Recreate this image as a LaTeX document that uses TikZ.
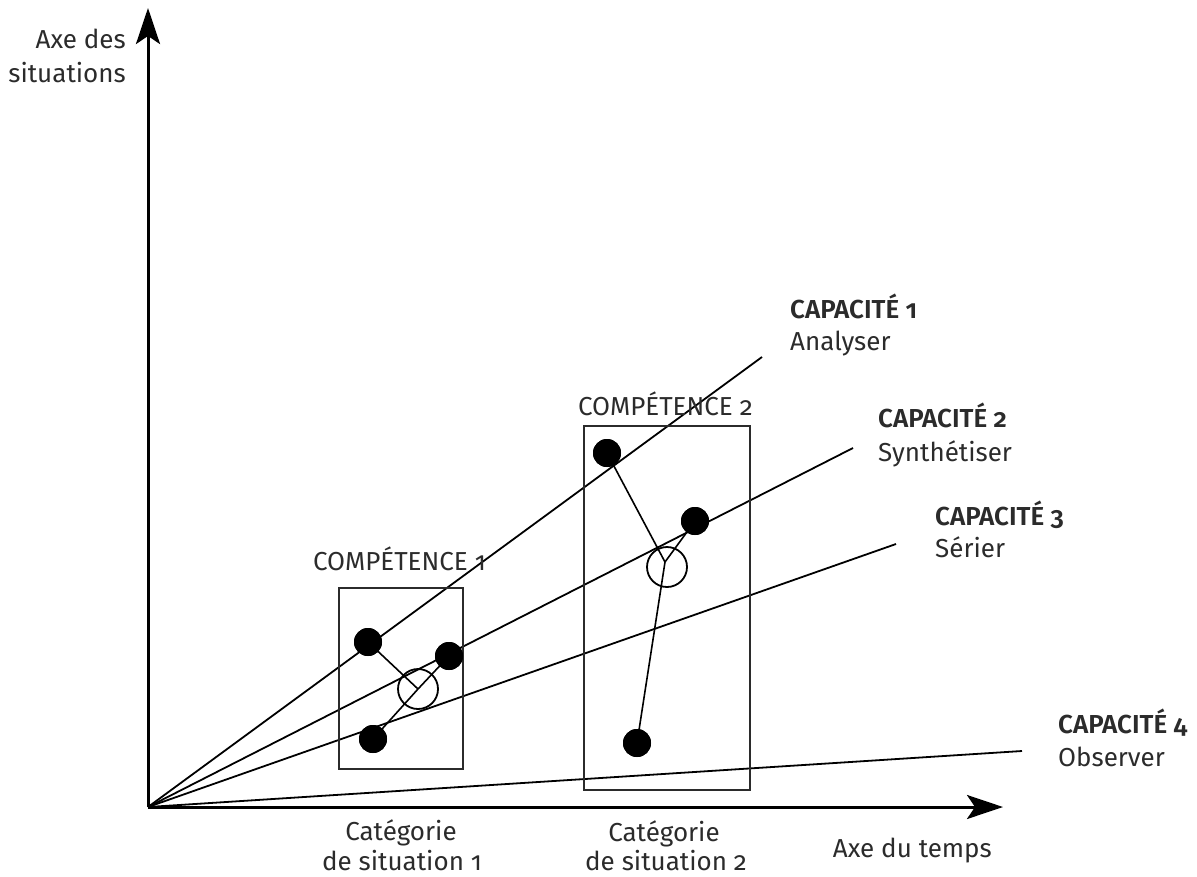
\documentclass[tikz,border=0pt]{standalone}
\usepackage{fontspec}
\setmainfont{Fira Sans}[Numbers=OldStyle,BoldFont={Fira Sans SemiBold}]
\usetikzlibrary{arrows.meta}
\definecolor{ink}{HTML}{2B2B2B}
\begin{document}
\begin{tikzpicture}[x=1pt,y=-1pt,
  axis/.style={line width=3pt,-{Stealth[length=36pt,width=24pt,inset=8pt]}},
  capline/.style={line width=1.8pt},
  framebox/.style={draw=ink,line width=2pt},
  link/.style={line width=1.6pt},
  fulldot/.style={circle,fill=black,inner sep=0pt,minimum size=28pt},
  opendot/.style={circle,draw=black,line width=1.8pt,inner sep=0pt,minimum size=40pt},
  lbl/.style={text=ink,inner sep=0pt,font=\fontsize{26}{32}\selectfont},
  caplbl/.style={lbl,font=\fontsize{26}{32}\selectfont\bfseries},
]
\useasboundingbox (0,0) rectangle (1197,876);

% axes
\coordinate (O) at (148,807);
\coordinate (ytip) at (148,8);
\coordinate (xtip) at (1003,807);

% ends of the four capacity lines
\coordinate (c1) at (762,357);
\coordinate (c2) at (853,448);
\coordinate (c3) at (896,544);
\coordinate (c4) at (1022,751);

\draw[capline] (O) -- (c1);
\draw[capline] (O) -- (c2);
\draw[capline] (O) -- (c3);
\draw[capline] (O) -- (c4);

% competence frames
\draw[framebox] (339,588) rectangle (463,769);
\draw[framebox] (584,426) rectangle (750,790);

% competence 1
\node[opendot] (k1) at (418,689) {};
\node[fulldot] (a1) at (368,642) {};
\node[fulldot] (b1) at (449,656) {};
\node[fulldot] (d1) at (373,739) {};
\draw[link] (a1.center) -- (k1.center);
\draw[link] (b1.center) -- (k1.center);
\draw[link] (d1.center) -- (k1.center);
\node[fulldot] at (a1) {};
\node[fulldot] at (b1) {};
\node[fulldot] at (d1) {};

% competence 2
\node[opendot] (k2) at (667,567) {};
\coordinate (m2) at (665,562);
\node[fulldot] (a2) at (607,453) {};
\node[fulldot] (b2) at (695,521) {};
\node[fulldot] (d2) at (637,743) {};
\draw[link] (a2.center) -- (m2);
\draw[link] (b2.center) -- (m2);
\draw[link] (d2.center) -- (m2);
\node[fulldot] at (a2) {};
\node[fulldot] at (b2) {};
\node[fulldot] at (d2) {};

\draw[axis] (O) -- (ytip);
\draw[axis] (O) -- (xtip);

% labels
\node[lbl,anchor=base east] (ya) at (126,48) {Axe des};
\node[lbl,anchor=base east] (yb) at (126,82) {situations};
\node[lbl,anchor=base east] (xa) at (992,857) {Axe du temps};

\node[lbl,anchor=base] (s1a) at (401,840) {Catégorie};
\node[lbl,anchor=base] (s1b) at (402,870) {de situation 1};
\node[lbl,anchor=base] (s2a) at (664,841) {Catégorie};
\node[lbl,anchor=base] (s2b) at (666,870) {de situation 2};

\node[lbl,anchor=base west] (t1) at (313,570) {COMPÉTENCE 1};
\node[lbl,anchor=base west] (t2) at (578,415) {COMPÉTENCE 2};

\node[caplbl,anchor=base west] (p1a) at (790,318) {CAPACITÉ 1};
\node[lbl,anchor=base west] (p1b) at (790,350) {Analyser};
\node[caplbl,anchor=base west] (p2a) at (878,427) {CAPACITÉ 2};
\node[lbl,anchor=base west] (p2b) at (878,461) {Synthétiser};
\node[caplbl,anchor=base west] (p3a) at (935,525) {CAPACITÉ 3};
\node[lbl,anchor=base west] (p3b) at (935,557) {Sérier};
\node[caplbl,anchor=base west] (p4a) at (1058,733) {CAPACITÉ 4};
\node[lbl,anchor=base west] (p4b) at (1058,766) {Observer};
\end{tikzpicture}
\end{document}
